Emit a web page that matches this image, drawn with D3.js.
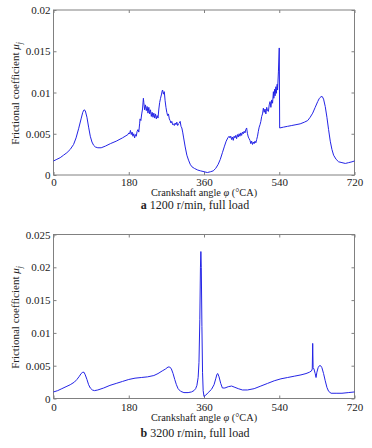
<!DOCTYPE html>
<html>
<head>
<meta charset="utf-8">
<script src="https://cdn.jsdelivr.net/npm/d3@7.9.0/dist/d3.min.js"></script>
<style>
  body { margin: 0; background: #fff; }
  svg { display: block; }
  text { font-family: "Liberation Serif", "Times New Roman", serif; fill: #222; }
  .tick line { stroke: #808080; }
</style>
</head>
<body>
<svg width="372" height="448"></svg>
<script>
// tick values shared by both panels
const angleTicks = [0, 180, 360, 540, 720];
const muTicksA = [0, 0.005, 0.01, 0.015, 0.02];
const muLabelsA = ['0', '0.005', '0.01', '0.015', '0.02'];
const muTicksB = [0, 0.005, 0.01, 0.015, 0.02, 0.025];
const muLabelsB = ['0', '0.005', '0.01', '0.015', '0.02', '0.025'];

// (a) 1200 r/min, full load
const angleA = [0, 8, 16, 24, 32, 40, 48, 54, 60, 66, 70, 73, 76, 80, 84, 88, 92, 96, 100, 106, 114, 124, 136, 150, 165, 178,
  180, 182, 184, 186, 188, 190, 192, 194, 196, 198, 200, 202, 204, 206, 207, 209, 211, 213, 215, 216, 218, 220, 222, 224,
  226, 228, 230, 232, 234, 236, 238, 240, 242, 244, 246, 248, 250, 252, 254, 256, 258, 260, 261, 263, 265, 267, 269, 271,
  273, 275, 277, 279, 281, 283, 285, 287, 289, 291, 293, 295, 297, 299, 301, 303, 305, 307, 309, 311, 315, 319, 323, 327,
  331, 337, 345, 352, 360, 368, 376, 382, 388, 394, 399, 404, 409, 413, 417, 420,
  422, 424, 426, 428, 430, 432, 434, 436, 438, 440, 442, 444, 446, 448, 450, 452, 454, 456, 458, 460, 462, 464, 466, 468,
  470, 472, 474, 476, 478, 480, 482, 484, 486, 488, 490, 492, 494, 496, 498, 500, 502, 504, 506, 508, 510, 512, 514, 516,
  518, 520, 522, 524, 526, 527, 529, 530, 532, 533, 535, 536, 538, 540, 541, 550, 560, 570, 580, 590, 600, 608, 614, 620,
  626, 632, 636, 640, 643, 646, 650, 654, 658, 662, 666, 670, 676, 682, 690, 698, 706, 714, 720];
const muA = [0.0017, 0.0019, 0.0021, 0.0024, 0.0027, 0.0031, 0.0037, 0.0045, 0.0056, 0.0068, 0.0076, 0.0079, 0.0078, 0.0070,
  0.0058, 0.0047, 0.0040, 0.0036, 0.0034, 0.0033, 0.0033, 0.0035, 0.0038, 0.0041, 0.0045, 0.0049,
  0.0051, 0.0050, 0.0054, 0.0049, 0.0052, 0.0047, 0.0050, 0.0045, 0.0049, 0.0047, 0.0053, 0.0055, 0.0052, 0.0062, 0.0068,
  0.0066, 0.0074, 0.0080, 0.0093, 0.0088, 0.0079, 0.0085, 0.0078, 0.0083, 0.0075, 0.0082, 0.0074, 0.0079, 0.0071, 0.0076,
  0.0070, 0.0075, 0.0069, 0.0074, 0.0068, 0.0072, 0.0069, 0.0080, 0.0088, 0.0093, 0.0097, 0.0102, 0.0103, 0.0098, 0.0101,
  0.0090, 0.0082, 0.0076, 0.0072, 0.0074, 0.0068, 0.0066, 0.0063, 0.0065, 0.0061, 0.0062, 0.0060, 0.0063, 0.0061, 0.0064,
  0.0060, 0.0062, 0.0063, 0.0065, 0.0059, 0.0057, 0.0052, 0.0046, 0.0034, 0.0024, 0.0018, 0.0013, 0.0010, 0.0008, 0.0006,
  0.0005, 0.0004, 0.0003, 0.0004, 0.0005, 0.0008, 0.0013, 0.0019, 0.0027, 0.0035, 0.0041, 0.0045, 0.0047,
  0.0045, 0.0047, 0.0043, 0.0046, 0.0042, 0.0047, 0.0045, 0.0048, 0.0044, 0.0049, 0.0046, 0.0050, 0.0047, 0.0051, 0.0048,
  0.0052, 0.0050, 0.0053, 0.0051, 0.0055, 0.0057, 0.0050, 0.0046, 0.0044, 0.0042, 0.0038, 0.0041, 0.0037, 0.0040, 0.0038,
  0.0041, 0.0039, 0.0043, 0.0047, 0.0053, 0.0058, 0.0061, 0.0065, 0.0071, 0.0074, 0.0081, 0.0076, 0.0080, 0.0074, 0.0082,
  0.0078, 0.0077, 0.0085, 0.0089, 0.0082, 0.0091, 0.0087, 0.0101, 0.0093, 0.0104, 0.0096, 0.0107, 0.0099, 0.0110, 0.0103,
  0.0125, 0.0154, 0.0057, 0.0058, 0.0059, 0.0060, 0.0061, 0.0062, 0.0064, 0.0066, 0.0070, 0.0075, 0.0082, 0.0089, 0.0093,
  0.0095, 0.0095, 0.0092, 0.0083, 0.0070, 0.0055, 0.0041, 0.0031, 0.0024, 0.0019, 0.0016, 0.0015, 0.0014, 0.0015, 0.0016,
  0.0017];

// (b) 3200 r/min, full load
const angleB = [0, 10, 20, 30, 40, 50, 56, 62, 66, 70, 73, 76, 80, 84, 88, 93, 98, 106, 120, 135, 150, 165, 180, 195, 210,
  225, 240, 250, 260, 268, 274, 278, 282, 286, 290, 294, 298, 304, 312, 322, 330, 336, 340, 343, 346, 348, 350, 351.5,
  352.5, 353.5, 355, 356.5, 358, 360, 364, 370, 378, 384, 388, 391, 393, 396, 400, 404, 410, 418, 426, 434, 442, 452, 464,
  480, 496, 512, 528, 544, 560, 576, 592, 604, 612, 617, 619, 620, 621, 623, 626, 628, 630, 633, 636, 639, 642, 646, 650,
  654, 658, 664, 676, 690, 705, 720];
const muB = [0.0010, 0.0012, 0.0015, 0.0018, 0.0021, 0.0025, 0.0029, 0.0034, 0.0038, 0.0040, 0.0040, 0.0036, 0.0029,
  0.0021, 0.0016, 0.0013, 0.0012, 0.0013, 0.0016, 0.0020, 0.0023, 0.0026, 0.0029, 0.0031, 0.0032, 0.0033, 0.0035, 0.0038,
  0.0042, 0.0045, 0.0048, 0.0048, 0.0045, 0.0038, 0.0029, 0.0021, 0.0015, 0.0011, 0.0009, 0.0009, 0.0010, 0.0012, 0.0015,
  0.0020, 0.0032, 0.0055, 0.0120, 0.0200, 0.0224, 0.0200, 0.0110, 0.0040, 0.0012, 0.0003, 0.0005, 0.0009, 0.0014, 0.0021,
  0.0030, 0.0037, 0.0038, 0.0033, 0.0023, 0.0016, 0.0016, 0.0018, 0.0019, 0.0017, 0.0015, 0.0013, 0.0013, 0.0015, 0.0019,
  0.0023, 0.0027, 0.0030, 0.0032, 0.0034, 0.0036, 0.0038, 0.0040, 0.0042, 0.0045, 0.0084, 0.0047, 0.0045, 0.0038, 0.0032,
  0.0040, 0.0047, 0.0050, 0.0050, 0.0047, 0.0038, 0.0027, 0.0017, 0.0011, 0.0008, 0.0008, 0.0008, 0.0009, 0.0010];

const svg = d3.select('svg');
const serif = '"Liberation Serif", "Times New Roman", serif';
const left = 53.5, right = 354.5;

function drawPanel(p) {
  const x = d3.scaleLinear().domain([0, 720]).range([left, right]);
  const y = d3.scaleLinear().domain([0, p.yMax]).range([p.bottom, p.top]);
  const g = svg.append('g');

  const tidy = (a) => {
    a.select('.domain').remove();
    a.attr('font-family', serif).attr('font-size', 11);
    a.selectAll('text').attr('fill', '#222');
  };

  // ticks on all four sides, pointing inward
  g.append('g').attr('transform', `translate(0,${p.bottom})`)
    .call(d3.axisBottom(x).tickValues(angleTicks).tickSize(-3).tickPadding(p.xPad))
    .call(tidy);
  g.append('g').attr('transform', `translate(0,${p.top})`)
    .call(d3.axisTop(x).tickValues(angleTicks).tickSize(-3).tickFormat(''))
    .call(tidy);
  g.append('g').attr('transform', `translate(${left},0)`)
    .call(d3.axisLeft(y).tickValues(p.yTicks).tickSize(-3).tickPadding(3)
      .tickFormat((d, i) => p.yLabels[i]))
    .call(tidy);
  g.append('g').attr('transform', `translate(${right},0)`)
    .call(d3.axisRight(y).tickValues(p.yTicks).tickSize(-3).tickFormat(''))
    .call(tidy);

  g.append('rect')
    .attr('x', left).attr('y', p.top)
    .attr('width', right - left).attr('height', p.bottom - p.top)
    .attr('fill', 'none').attr('stroke', '#808080').attr('stroke-width', 1);

  const line = d3.line().x((d) => x(d[0])).y((d) => y(d[1]));
  g.append('path')
    .datum(p.xs.map((a, i) => [a, p.ys[i]]))
    .attr('d', line)
    .attr('fill', 'none')
    .attr('stroke', '#2424e6')
    .attr('stroke-width', 1)
    .attr('stroke-linejoin', 'round');

  // axis titles
  g.append('text')
    .attr('x', 204).attr('y', p.xLabelY)
    .attr('text-anchor', 'middle').attr('font-size', 10.3)
    .html('Crankshaft angle <tspan font-style="italic">φ</tspan> (°CA)');

  const yl = g.append('text')
    .attr('transform', `translate(19,${(p.top + p.bottom) / 2 + 1}) rotate(-90)`)
    .attr('text-anchor', 'middle').attr('font-size', 11);
  yl.append('tspan').text('Frictional coefficient  ');
  yl.append('tspan').attr('font-style', 'italic').text('μ');
  yl.append('tspan').attr('font-size', 7.5).attr('dy', 2.5).attr('font-style', 'italic').text('j');

  const cap = g.append('text')
    .attr('x', 195).attr('y', p.capY)
    .attr('text-anchor', 'middle').attr('font-size', 12);
  cap.append('tspan').attr('font-weight', 'bold').text(p.tag);
  cap.append('tspan').text(' ' + p.caption);
}

drawPanel({
  top: 10, bottom: 175, yMax: 0.02, yTicks: muTicksA, yLabels: muLabelsA,
  xs: angleA, ys: muA, xPad: 3, xLabelY: 196, capY: 208.5,
  tag: 'a', caption: '1200 r/min, full load'
});
drawPanel({
  top: 234.5, bottom: 398.5, yMax: 0.025, yTicks: muTicksB, yLabels: muLabelsB,
  xs: angleB, ys: muB, xPad: 4.5, xLabelY: 420.5, capY: 437,
  tag: 'b', caption: '3200 r/min, full load'
});
</script>
</body>
</html>
